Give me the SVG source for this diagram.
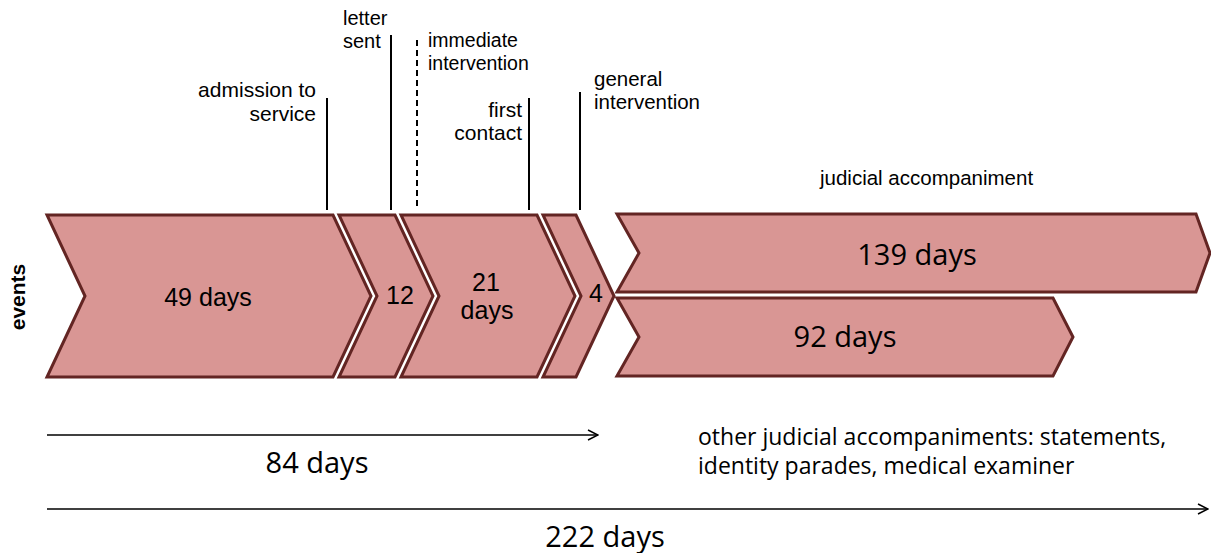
<svg xmlns="http://www.w3.org/2000/svg" width="1211" height="553" viewBox="0 0 1211 553">
<style>
.chev{fill:#d99694;stroke:#632523;stroke-width:3;stroke-linejoin:miter}
.a{font-family:"Liberation Sans",Arial,sans-serif;fill:#000}
.c{font-family:"Open Sans","Noto Sans",sans-serif;fill:#000}
.lbl{font-size:20px}
.big{font-size:25px}
.num{font-size:29px}
.tick{stroke:#000;stroke-width:2;fill:none}
.conn{stroke:#000;stroke-width:1.5;fill:none}
</style>
<defs>
<marker id="open" viewBox="0 0 12 12" refX="11" refY="6" markerWidth="12" markerHeight="12" markerUnits="userSpaceOnUse" orient="auto">
<path d="M1,1 L11,6 L1,11" fill="none" stroke="#000" stroke-width="1.5"/>
</marker>
</defs>
<rect width="1211" height="553" fill="#fff"/>

<text class="a" font-weight="bold" font-size="21" text-anchor="middle" transform="translate(25,297) rotate(-90)">events</text>

<g id="c1">
<polygon class="chev" points="47,215 333,215 371,296 333,377 47,377 85,296"/>
<text class="a big" x="208" y="306" text-anchor="middle">49 days</text>
</g>
<g id="c2">
<polygon class="chev" points="339,215 395,215 433,296 395,377 339,377 377,296"/>
<text class="a big" x="400" y="304" text-anchor="middle">12</text>
</g>
<g id="c3">
<polygon class="chev" points="401,215 537,215 575,296 537,377 401,377 439,296"/>
<text class="a big" x="486" y="291" text-anchor="middle">21</text>
<text class="a big" x="487" y="319" text-anchor="middle">days</text>
</g>
<g id="c4">
<polygon class="chev" points="543,215 576,215 614,296 576,377 543,377 581,296"/>
<text class="a big" x="596" y="302" text-anchor="middle">4</text>
</g>
<g id="c5">
<polygon class="chev" points="617,214 1196,214 1210,253 1196,292 617,292 639,253"/>
<text class="c num" x="917" y="265" text-anchor="middle">139 days</text>
</g>
<g id="c6">
<polygon class="chev" points="617,298 1053,298 1073,337 1053,376 617,376 639,337"/>
<text class="c num" x="845" y="347" text-anchor="middle">92 days</text>
</g>

<g id="e-admission">
<line class="tick" x1="327" y1="98" x2="327" y2="210"/>
<text class="a" font-size="21" x="316" y="97" text-anchor="end">admission to</text>
<text class="a" font-size="21" x="316" y="121" text-anchor="end">service</text>
</g>
<g id="e-letter">
<line class="tick" x1="391" y1="35" x2="391" y2="210" stroke-width="3"/>
<text class="a lbl" x="343" y="25">letter</text>
<text class="a lbl" x="343" y="48">sent</text>
</g>
<g id="e-immediate">
<line class="tick" x1="417" y1="40" x2="417" y2="210" stroke-dasharray="6,4"/>
<text class="a" font-size="19.5" x="428" y="47">immediate</text>
<text class="a" font-size="19.5" x="428" y="70">intervention</text>
</g>
<g id="e-first">
<line class="tick" x1="529" y1="98" x2="529" y2="210"/>
<text class="a" font-size="21" x="522" y="117" text-anchor="end">first</text>
<text class="a" font-size="21" x="522" y="140" text-anchor="end">contact</text>
</g>
<g id="e-general">
<line class="tick" x1="580" y1="92" x2="580" y2="210"/>
<text class="a" font-size="20.5" x="594" y="86">general</text>
<text class="a" font-size="20.5" x="594" y="109">intervention</text>
</g>
<text class="a" font-size="20.5" x="820" y="185">judicial accompaniment</text>

<g id="connectors">
<line class="conn" x1="47" y1="435" x2="598" y2="435" marker-end="url(#open)"/>
<line class="conn" x1="47" y1="509" x2="1208" y2="509" marker-end="url(#open)"/>
</g>
<text class="c num" x="317" y="473" text-anchor="middle">84 days</text>
<text class="c num" x="605" y="547" text-anchor="middle">222 days</text>
<text class="c" font-size="23" x="698" y="445">other judicial accompaniments: statements,</text>
<text class="c" font-size="23" x="698" y="474">identity parades, medical examiner</text>
</svg>
